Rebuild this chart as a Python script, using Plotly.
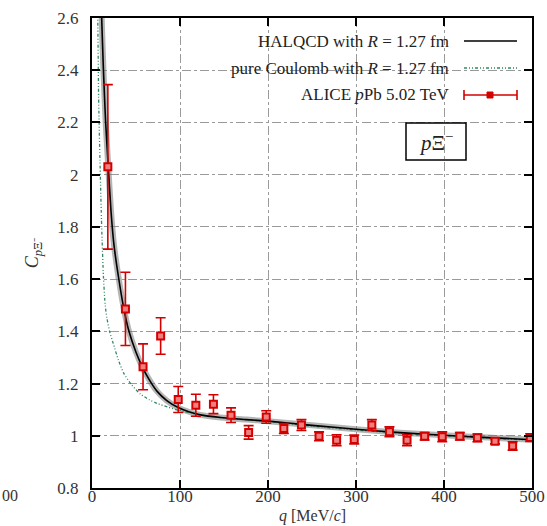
import plotly.graph_objects as go

# ---------------- data ----------------
q_data = [18, 38, 58, 78, 98, 118, 138, 158, 178, 198, 218, 238, 258,
          278, 298, 318, 338, 358, 378, 398, 418, 438, 458, 478, 498]
c_data = [2.03, 1.486, 1.264, 1.382, 1.139, 1.117, 1.121, 1.079, 1.013,
          1.072, 1.028, 1.041, 0.998, 0.983, 0.986, 1.041, 1.015, 0.983,
          0.998, 0.996, 0.998, 0.992, 0.979, 0.961, 0.993]
c_err = [0.315, 0.14, 0.088, 0.07, 0.05, 0.042, 0.036, 0.028, 0.026,
         0.024, 0.019, 0.021, 0.017, 0.021, 0.017, 0.021, 0.019, 0.021,
         0.014, 0.019, 0.014, 0.015, 0.01, 0.016, 0.015]

q_hal = [10, 11, 13, 15.5, 18.5, 21.6, 25, 30, 36, 42, 50, 57, 65, 74, 85,
         98, 110, 123, 146, 175, 200, 250, 300, 350, 400, 450, 500]
c_hal = [2.72, 2.6, 2.4, 2.2, 2.03, 1.86, 1.73, 1.61, 1.49, 1.40, 1.32,
         1.265, 1.215, 1.17, 1.135, 1.108, 1.092, 1.08, 1.07, 1.062, 1.056,
         1.04, 1.025, 1.012, 1.002, 0.993, 0.985]

q_coul = [5, 6.5, 7.5, 9, 11, 13, 15, 17, 20, 24, 30, 36, 45, 55, 65, 74,
          86, 98, 120, 150, 200, 250, 300, 350, 400, 450, 500]
c_coul = [2.75, 2.6, 2.3, 2.06, 1.8, 1.61, 1.50, 1.45, 1.40, 1.355, 1.29,
          1.24, 1.195, 1.16, 1.138, 1.124, 1.11, 1.098, 1.082, 1.068, 1.055,
          1.037, 1.022, 1.01, 1.0, 0.991, 0.983]

x_ticks = [0, 100, 200, 300, 400, 500]
y_ticks = [0.8, 1.0, 1.2, 1.4, 1.6, 1.8, 2.0, 2.2, 2.4, 2.6]
y_ticktext = ["0.8", "1", "1.2", "1.4", "1.6", "1.8", "2", "2.2", "2.4", "2.6"]

legend_labels = ["HALQCD with <i>R</i> = 1.27 fm",
                 "pure Coulomb with <i>R</i> = 1.27 fm",
                 "ALICE <i>p</i>Pb 5.02 TeV"]
x_title = "<i>q</i> [MeV/<i>c</i>]"
y_title = "<i>C</i><sub><i>p</i>Ξ⁻</sub>"

# ---------------- layout geometry ----------------
W, H = 547, 526
L, R, T, B = 92, 532, 18, 488
FONT = "Liberation Serif"
RED = "#d40000"
GREEN = "#2f8a62"


def px(x):
    return (x - L) / (R - L)


def py(y):
    return (B - y) / (B - T)


fig = go.Figure()

# band (gray underlay) + HALQCD line
fig.add_trace(go.Scatter(x=q_hal, y=c_hal, mode="lines",
                         line=dict(color="rgba(120,120,120,0.55)", width=6, shape="spline", smoothing=0.6),
                         showlegend=False, hoverinfo="skip"))
fig.add_trace(go.Scatter(x=q_coul, y=c_coul, mode="lines",
                         line=dict(color=GREEN, width=1.3, dash="3px,2px,1px,2px,1px,2px",
                                   shape="spline", smoothing=0.6),
                         showlegend=False))
fig.add_trace(go.Scatter(x=q_hal, y=c_hal, mode="lines",
                         line=dict(color="black", width=1.6, shape="spline", smoothing=0.6),
                         showlegend=False))
fig.add_trace(go.Scatter(x=q_data, y=c_data, mode="markers",
                         marker=dict(symbol="square", size=7, color="#f08080",
                                     line=dict(color=RED, width=2)),
                         error_y=dict(type="data", array=c_err, color=RED, thickness=1.6, width=5),
                         showlegend=False))

shapes = []
annotations = []

# white legend background
shapes.append(dict(type="rect", xref="paper", yref="paper",
                   x0=px(155), x1=px(528), y0=py(108), y1=py(19),
                   fillcolor="white", line=dict(width=0), layer="between"))

rows = [41, 68, 95]
for lbl, yy in zip(legend_labels, rows):
    annotations.append(dict(xref="paper", yref="paper", x=px(451), y=py(yy),
                            text=lbl, showarrow=False, xanchor="right", yanchor="middle",
                            font=dict(family=FONT, size=17, color="#222")))
# legend samples
shapes.append(dict(type="line", xref="paper", yref="paper", x0=px(464), x1=px(517),
                   y0=py(rows[0]), y1=py(rows[0]), line=dict(color="black", width=1.6)))
shapes.append(dict(type="line", xref="paper", yref="paper", x0=px(464), x1=px(517),
                   y0=py(rows[1]), y1=py(rows[1]),
                   line=dict(color=GREEN, width=1.3, dash="3px,2px,1px,2px,1px,2px")))
shapes.append(dict(type="line", xref="paper", yref="paper", x0=px(464), x1=px(517),
                   y0=py(rows[2]), y1=py(rows[2]), line=dict(color=RED, width=1.6)))
for xc in (464, 517):
    shapes.append(dict(type="line", xref="paper", yref="paper", x0=px(xc), x1=px(xc),
                       y0=py(rows[2] - 5), y1=py(rows[2] + 5), line=dict(color=RED, width=1.6)))
shapes.append(dict(type="rect", xref="paper", yref="paper", x0=px(487), x1=px(493),
                   y0=py(rows[2] + 3), y1=py(rows[2] - 3), fillcolor=RED, line=dict(color=RED, width=1)))

# p Xi label box
shapes.append(dict(type="rect", xref="paper", yref="paper", x0=px(406), x1=px(466),
                   y0=py(160), y1=py(123), line=dict(color="black", width=1.5)))
annotations.append(dict(xref="paper", yref="paper", x=px(436), y=py(141),
                        text="<i>p</i>Ξ<sup>−</sup>", showarrow=False,
                        xanchor="center", yanchor="middle",
                        font=dict(family=FONT, size=21, color="#222")))

# x-axis title
annotations.append(dict(xref="paper", yref="paper", x=px(312), y=py(516),
                        text=x_title, showarrow=False, xanchor="center", yanchor="middle",
                        font=dict(family=FONT, size=16, color="#333")))

# fragment of neighbouring panel's tick label
annotations.append(dict(xref="paper", yref="paper", x=px(0), y=py(495),
                        text="00", showarrow=False, xanchor="left", yanchor="middle",
                        font=dict(family=FONT, size=16, color="#333")))

fig.update_layout(
    width=W, height=H,
    margin=dict(l=L, r=W - R, t=T, b=H - B, autoexpand=False),
    paper_bgcolor="white", plot_bgcolor="white",
    font=dict(family=FONT, size=17, color="#333"),
    shapes=shapes, annotations=annotations,
    showlegend=False,
)
axis_common = dict(showline=True, linecolor="black", linewidth=2, mirror="ticks",
                   ticks="inside", ticklen=8, tickwidth=2, tickcolor="black",
                   showgrid=True, gridcolor="#9a9a9a", gridwidth=1, griddash="dashdot",
                   zeroline=False, automargin=False,
                   tickfont=dict(family=FONT, size=17, color="#333"))
fig.update_xaxes(range=[0, 500], tickvals=x_ticks, ticklabelstandoff=-8,
                 **axis_common)
fig.update_yaxes(range=[0.8, 2.6], tickvals=y_ticks, ticktext=y_ticktext, ticklabelstandoff=8,
                 title=dict(text=y_title, standoff=14,
                            font=dict(family=FONT, size=18, color="#333")),
                 **axis_common)

fig.write_html("out.html")
